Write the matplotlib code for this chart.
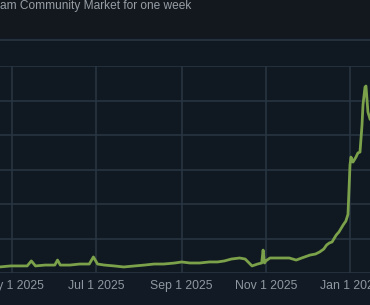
import matplotlib
matplotlib.use('Agg')
import matplotlib.pyplot as plt
import pandas as pd

# price history (arbitrary units, gridline every 2)
dates = [
    '2025-04-22', '2025-04-30', '2025-05-07', '2025-05-12', '2025-05-15', '2025-05-18',
    '2025-05-25', '2025-06-01', '2025-06-03', '2025-06-05', '2025-06-12', '2025-06-19',
    '2025-06-26', '2025-06-29', '2025-07-02', '2025-07-07', '2025-07-14', '2025-07-21',
    '2025-07-29', '2025-08-05', '2025-08-12', '2025-08-19', '2025-08-27', '2025-09-01',
    '2025-09-07', '2025-09-14', '2025-09-21', '2025-09-27', '2025-10-02', '2025-10-07',
    '2025-10-13', '2025-10-17', '2025-10-22', '2025-10-26', '2025-10-29', '2025-10-30',
    '2025-10-31', '2025-11-01', '2025-11-04', '2025-11-11', '2025-11-18', '2025-11-23',
    '2025-11-27', '2025-12-03', '2025-12-07', '2025-12-10', '2025-12-13', '2025-12-15',
    '2025-12-17', '2025-12-19', '2025-12-22', '2025-12-24', '2025-12-27', '2025-12-29',
    '2025-12-30 13:00', '2026-01-01 00:00', '2026-01-01 17:00', '2026-01-03 04:00',
    '2026-01-05 08:00', '2026-01-06 18:00', '2026-01-08 06:00',
    '2026-01-09 17:00', '2026-01-10 10:00', '2026-01-11 21:00', '2026-01-12 14:00',
    '2026-01-14 00:00', '2026-01-15 12:00',
]
prices = [
    0.35, 0.41, 0.41, 0.41, 0.70, 0.41,
    0.46, 0.46, 0.75, 0.46, 0.46, 0.52,
    0.52, 0.93, 0.52, 0.46, 0.41, 0.35,
    0.41, 0.46, 0.52, 0.52, 0.58, 0.64,
    0.58, 0.58, 0.64, 0.64, 0.70, 0.81,
    0.87, 0.81, 0.41, 0.52, 0.58, 1.33,
    0.58, 0.70, 0.87, 0.87, 0.87, 0.75,
    0.87, 1.04, 1.10, 1.22, 1.39, 1.62,
    1.74, 1.80, 2.20, 2.38, 2.78, 3.01,
    3.40, 6.26, 6.72, 6.43,
    6.72, 6.96, 7.01,
    8.58, 9.74, 10.78, 10.84,
    9.33, 8.93,
]
tick_dates = ['2025-05-01', '2025-07-01', '2025-09-01', '2025-11-01', '2026-01-01']
tick_labels = ['May 1 2025', 'Jul 1 2025', 'Sep 1 2025', 'Nov 1 2025', 'Jan 1 2026']
y_ticks = [0, 2, 4, 6, 8, 10, 12]

plt.rcParams['font.family'] = ['Liberation Sans', 'DejaVu Sans']

fig = plt.figure(figsize=(3.7, 3.05), dpi=100)
fig.patch.set_facecolor('#121a25')

# header strip and the panel behind the graph
fig.add_artist(plt.Rectangle((0, 1 - 38 / 305), 1, 38 / 305, transform=fig.transFigure,
                             facecolor='#13181f', edgecolor='none', zorder=0))
fig.add_artist(plt.Rectangle((0, 32 / 305), 1, (266 - 32) / 305, transform=fig.transFigure,
                             facecolor='#101821', edgecolor='none', zorder=0))
fig.add_artist(plt.Line2D([0, 1], [1 - 39.5 / 305] * 2, transform=fig.transFigure,
                          color='#25303d', lw=1.5))

fig.text(0.0, 1 - 6 / 305, 'am Community Market for one week', color='#989ea5',
         fontsize=8.6, ha='left', va='center')

ax = fig.add_axes([0, 32 / 305, 1, (273 - 66) / 305])
ax.patch.set_alpha(0)

x = pd.to_datetime(dates, format='mixed')
ax.plot(x, prices, color='#7ba24a', lw=2.0, solid_joinstyle='round', zorder=3)

ax.set_xlim(pd.Timestamp('2025-04-22 07:00'), pd.Timestamp('2026-01-15 12:00'))
ax.set_ylim(0, 12)
ax.set_yticks(y_ticks)
ax.set_yticklabels([])
ax.set_xticks(pd.to_datetime(tick_dates))
ax.set_xticklabels(tick_labels)
ax.tick_params(axis='both', length=0, colors='#8f98a0', labelsize=8.8, pad=5)
ax.grid(True, color='#283441', lw=1.2)
for s in ax.spines.values():
    s.set_visible(False)

fig.savefig('out.png', dpi=100, facecolor=fig.get_facecolor())
